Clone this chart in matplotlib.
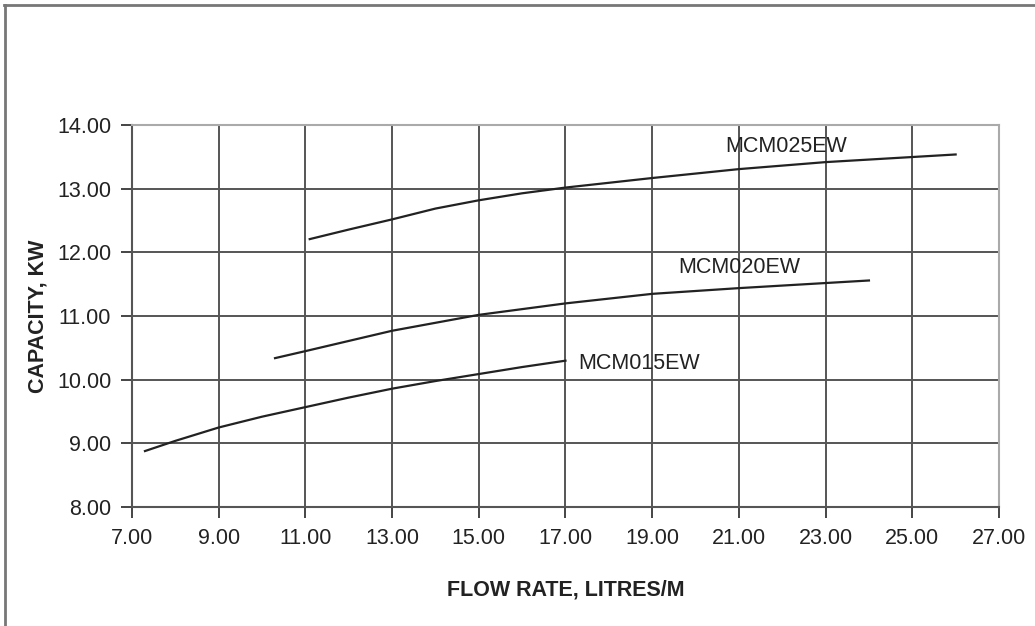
import matplotlib.pyplot as plt
from matplotlib.lines import Line2D

plt.rcParams['font.family'] = ['Liberation Sans', 'DejaVu Sans']

# Values
flow_025 = [11.1, 12.0, 13.0, 14.0, 15.0, 16.0, 17.0, 19.0, 21.0, 23.0, 25.0, 26.0]
cap_025 = [12.21, 12.36, 12.52, 12.69, 12.82, 12.93, 13.02, 13.17, 13.31, 13.42, 13.50, 13.54]

flow_020 = [10.3, 11.0, 13.0, 15.0, 17.0, 19.0, 21.0, 23.0, 24.0]
cap_020 = [10.34, 10.45, 10.77, 11.02, 11.20, 11.35, 11.44, 11.52, 11.56]

flow_015 = [7.3, 8.0, 9.0, 10.0, 11.0, 12.0, 13.0, 14.0, 15.0, 16.0, 17.0]
cap_015 = [8.88, 9.04, 9.25, 9.42, 9.57, 9.72, 9.86, 9.98, 10.09, 10.20, 10.30]

labels = ['MCM025EW', 'MCM020EW', 'MCM015EW']
label_x = [22.1, 21.0, 18.7]
label_y = [13.67, 11.76, 10.26]

x_ticks = [7, 9, 11, 13, 15, 17, 19, 21, 23, 25, 27]
y_ticks = [8, 9, 10, 11, 12, 13, 14]

fig = plt.figure(figsize=(10.35, 6.26), dpi=100)
ax = fig.add_axes([0.1275, 0.190, 0.8377, 0.610])

ax.plot(flow_025, cap_025, color='#222222', lw=1.6)
ax.plot(flow_020, cap_020, color='#222222', lw=1.6)
ax.plot(flow_015, cap_015, color='#222222', lw=1.6)

for name, lx, ly in zip(labels, label_x, label_y):
    ax.text(lx, ly, name, fontsize=15.5, color='#222222', ha='center', va='center')

ax.set_xlim(7, 27)
ax.set_ylim(8, 14)
ax.set_xticks(x_ticks)
ax.set_yticks(y_ticks)
ax.set_xticklabels([f'{v:.2f}' for v in x_ticks])
ax.set_yticklabels([f'{v:.2f}' for v in y_ticks])
ax.tick_params(axis='both', labelsize=15.5, length=8, width=1.4, color='#444444',
               labelcolor='#222222', pad=7)

ax.grid(True, color='#555555', lw=1.4)
ax.set_axisbelow(True)
for side in ['left', 'bottom']:
    ax.spines[side].set_color('#555555')
    ax.spines[side].set_linewidth(1.5)
for side in ['top', 'right']:
    ax.spines[side].set_color('#aaaaaa')
    ax.spines[side].set_linewidth(1.5)

ax.set_xlabel('FLOW RATE, LITRES/M', fontsize=15.5, fontweight='bold', color='#222222', labelpad=22)
ax.set_ylabel('CAPACITY, KW', fontsize=15.5, fontweight='bold', color='#222222', labelpad=6)

# outer frame (top and left edges only, as in the reference)
fig.add_artist(Line2D([0.004, 1.0], [0.992, 0.992], transform=fig.transFigure, color='#777777', lw=2))
fig.add_artist(Line2D([0.005, 0.005], [0.0, 0.992], transform=fig.transFigure, color='#777777', lw=2))

fig.savefig('out.png', dpi=100)
